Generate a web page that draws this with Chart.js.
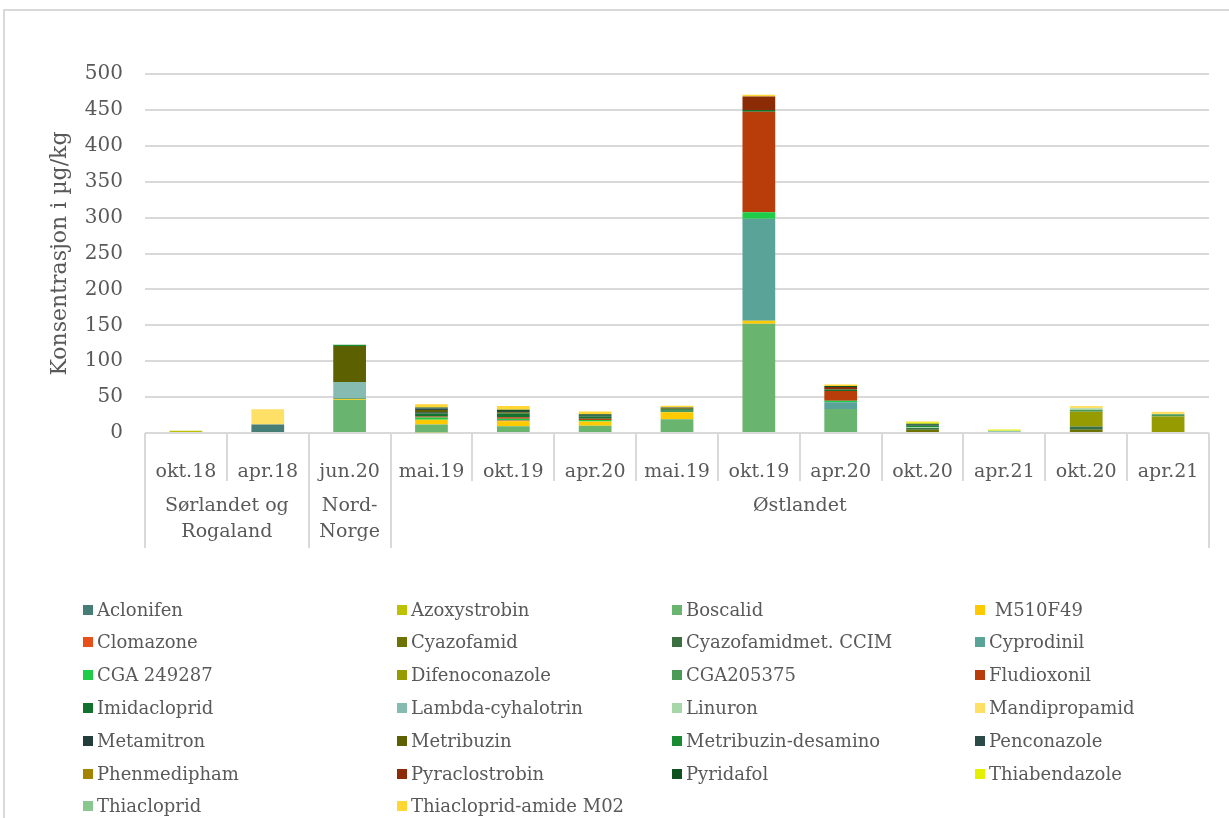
<!DOCTYPE html>
<html>
<head>
<meta charset="utf-8">
<script src="https://cdn.jsdelivr.net/npm/chart.js@4.4.1/dist/chart.umd.min.js"></script>
<style>
  html, body { margin: 0; padding: 0; background: #fff; overflow: hidden; }
  #frame { position: absolute; left: 3px; top: 9px; width: 1260px; height: 840px;
           border-top: 2px solid #d9d9d9; border-left: 2px solid #d9d9d9; box-sizing: border-box; }
  #wrap { position: absolute; left: 0; top: 0; width: 1229px; height: 818px; }
  .lg-item { position: absolute; font: 18px "DejaVu Serif"; color: #595959; white-space: pre; line-height: 22px; }
  .lg-box { position: absolute; width: 10px; height: 10px; }
</style>
</head>
<body>
<div id="frame"></div>
<div id="wrap"><canvas id="chart" width="1229" height="818"></canvas></div>
<div id="legend"></div>
<script>
// Sampling rounds (x-axis categories) and the regions they belong to
const categories = ['okt.18', 'apr.18', 'jun.20', 'mai.19', 'okt.19', 'apr.20', 'mai.19',
                    'okt.19', 'apr.20', 'okt.20', 'apr.21', 'okt.20', 'apr.21'];
const groupLabels = [['Sørlandet og', 'Rogaland'], ['Nord-', 'Norge'], ['Østlandet']];
const groupSizes = [2, 1, 10];

// Y-axis range in µg/kg
const yMin = 0;
const yMax = 500;
const yStep = 50;

// Concentrations (µg/kg) per substance, one value per sampling round
const aclonifen          = [0, 12, 0, 0, 0, 0, 0, 0, 0, 0, 0, 0, 0];
const azoxystrobin       = [3, 0, 0, 1, 0, 0, 0, 0, 0, 0, 0, 0, 0];
const boscalid           = [0, 0, 46, 11, 9.5, 10, 19, 152, 33.5, 0, 0, 0, 0];
const m510f49            = [0, 0, 1, 6.5, 7, 6, 10, 4.5, 0, 0, 0, 0, 0];
const clomazone          = [0, 0, 0, 0, 1, 0, 0, 0, 0, 0, 0, 0, 0];
const cyazofamid         = [0, 0, 0, 0, 0, 0, 0, 0, 0, 4.5, 0, 4.5, 0];
const cyazofamidCcim     = [0, 0, 0, 0, 0, 0, 0, 0, 0, 2.5, 0, 4.5, 0];
const cyprodinil         = [0, 0, 0, 0, 0, 0, 0, 142, 9.5, 0, 2, 0, 0];
const cga249287          = [0, 0, 0, 3, 2.5, 2, 0, 9, 2, 0, 0, 0, 0];
const difenoconazole     = [0, 0, 0, 0, 0, 0, 0, 0, 0, 0, 0, 20.5, 23];
const cga205375          = [0, 0, 0, 0, 0, 0, 2, 0, 0, 0, 0, 2.5, 3];
const fludioxonil        = [0, 0, 0, 1.5, 2, 2, 0, 140, 13.5, 0, 0, 0, 0];
const imidacloprid       = [0, 0, 1, 4, 5, 3, 2, 2.5, 2, 0, 0, 0, 0];
const lambdaCyhalotrin   = [0, 0, 23, 0, 0, 0, 0, 0, 0, 0, 0, 0, 0];
const linuron            = [0, 0, 0, 0, 0, 0, 0, 0, 0, 1, 1, 2.5, 0];
const mandipropamid      = [0, 21, 0, 0, 0, 0, 0, 0, 0, 0, 0, 3, 3.5];
const metamitron         = [0, 0, 0, 2, 0, 1, 0, 0, 0, 0, 0, 0, 0];
const metribuzin         = [0, 0, 50, 3, 2, 0, 1.5, 0, 0, 0, 0, 0, 0];
const metribuzinDesamino = [0, 0, 2, 0, 0, 0, 0, 0, 0, 2, 0, 0, 0];
const penconazole        = [0, 0, 0, 2, 1.5, 0, 1, 0, 0, 1.5, 0, 0, 0];
const phenmedipham       = [0, 0, 0, 0, 0, 0, 0, 0, 0, 0, 0, 0, 0];
const pyraclostrobin     = [0, 0, 0, 0, 0, 0, 0, 18.5, 3.5, 0, 0, 0, 0];
const pyridafol          = [0, 0, 0, 1.5, 2, 2, 0, 0, 1.5, 1.5, 0, 0, 0];
const thiabendazole      = [0, 0, 0, 0, 0, 0, 0, 0, 0, 2, 2, 0, 0];
const thiacloprid        = [0, 0, 0, 0, 0, 0, 0, 0, 0, 0, 0, 0, 0];
const thiaclopridAmide   = [0, 0, 0, 4.5, 5, 4, 2.5, 2.5, 2, 1, 0, 0, 0];

// Stack order (bottom to top) = legend order
const series = [
  ['Aclonifen', aclonifen, '#467d75'],
  ['Azoxystrobin', azoxystrobin, '#bcc200'],
  ['Boscalid', boscalid, '#69b56f'],
  [' M510F49', m510f49, '#ffcb00'],
  ['Clomazone', clomazone, '#e8501a'],
  ['Cyazofamid', cyazofamid, '#6e7200'],
  ['Cyazofamidmet. CCIM', cyazofamidCcim, '#3a7040'],
  ['Cyprodinil', cyprodinil, '#5aa398'],
  ['CGA 249287', cga249287, '#1ecc48'],
  ['Difenoconazole', difenoconazole, '#959b00'],
  ['CGA205375', cga205375, '#4b9a58'],
  ['Fludioxonil', fludioxonil, '#b93d0b'],
  ['Imidacloprid', imidacloprid, '#13712e'],
  ['Lambda-cyhalotrin', lambdaCyhalotrin, '#86bbb2'],
  ['Linuron', linuron, '#a7d6a9'],
  ['Mandipropamid', mandipropamid, '#ffe066'],
  ['Metamitron', metamitron, '#233d3a'],
  ['Metribuzin', metribuzin, '#5c6000'],
  ['Metribuzin-desamino', metribuzinDesamino, '#198b33'],
  ['Penconazole', penconazole, '#2b4a48'],
  ['Phenmedipham', phenmedipham, '#a38300'],
  ['Pyraclostrobin', pyraclostrobin, '#8b2c06'],
  ['Pyridafol', pyridafol, '#0e5220'],
  ['Thiabendazole', thiabendazole, '#e5f000'],
  ['Thiacloprid', thiacloprid, '#88c78e'],
  ['Thiacloprid-amide M02', thiaclopridAmide, '#ffd633']
];

const FONT = '"DejaVu Serif", serif';
const TEXT = '#595959';
const LINE = '#d9d9d9';

// Category separators below the axis and the region labels underneath
const groupAxis = {
  id: 'groupAxis',
  afterDraw(chart) {
    const { ctx, chartArea, scales: { x } } = chart;
    const n = categories.length;
    const edge = i => i === 0 ? chartArea.left : i === n ? chartArea.right
      : (x.getPixelForValue(i - 1) + x.getPixelForValue(i)) / 2;
    const bounds = new Set([0]);
    let acc = 0;
    groupSizes.forEach(s => { acc += s; bounds.add(acc); });
    ctx.save();
    ctx.strokeStyle = LINE;
    ctx.lineWidth = 2;
    for (let i = 0; i <= n; i++) {
      const px = Math.round(edge(i));
      const len = bounds.has(i) ? 115 : 48;
      ctx.beginPath();
      ctx.moveTo(px, chartArea.bottom);
      ctx.lineTo(px, chartArea.bottom + len);
      ctx.stroke();
    }
    ctx.fillStyle = TEXT;
    ctx.font = '19px ' + FONT;
    ctx.textAlign = 'center';
    ctx.textBaseline = 'middle';
    let start = 0;
    groupSizes.forEach((s, g) => {
      const cx = (edge(start) + edge(start + s)) / 2;
      groupLabels[g].forEach((t, k) => ctx.fillText(t, cx, chartArea.bottom + 73 + k * 26));
      start += s;
    });
    ctx.restore();
  }
};

new Chart(document.getElementById('chart'), {
  type: 'bar',
  data: {
    labels: categories,
    datasets: series.map(([label, data, color]) => ({
      label, data, backgroundColor: color, borderWidth: 0,
      barPercentage: 0.4, categoryPercentage: 1.0
    }))
  },
  options: {
    responsive: false,
    animation: false,
    layout: { padding: { left: 0, right: 20, top: 74, bottom: 325 } },
    plugins: { legend: { display: false }, tooltip: { enabled: false } },
    scales: {
      x: {
        stacked: true,
        grid: { display: false },
        border: { display: false },
        ticks: { color: TEXT, font: { family: FONT, size: 19 }, padding: 20, maxRotation: 0, autoSkip: false },
        afterFit(s) { s.height = 60; }
      },
      y: {
        stacked: true,
        min: yMin, max: yMax,
        ticks: { stepSize: yStep, color: TEXT, font: { family: FONT, size: 20 }, padding: 22 },
        grid: { color: LINE, lineWidth: 2, drawTicks: false },
        border: { display: false },
        title: { display: true, text: 'Konsentrasjon i µg/kg', color: TEXT,
                 font: { family: FONT, size: 22 }, padding: { top: 47, bottom: 0 } },
        afterFit(s) { s.width = 145; }
      }
    }
  },
  plugins: [groupAxis]
});

// Legend in four columns, row by row
const legendCols = [83, 397, 672, 975];
const legend = document.getElementById('legend');
series.forEach(([label, , color], i) => {
  const col = i % 4, row = Math.floor(i / 4);
  const cy = 609.5 + row * 32.8;
  const box = document.createElement('div');
  box.className = 'lg-box';
  box.style.left = legendCols[col] + 'px';
  box.style.top = (cy - 5) + 'px';
  box.style.background = color;
  legend.appendChild(box);
  const txt = document.createElement('div');
  txt.className = 'lg-item';
  txt.style.left = (legendCols[col] + 14) + 'px';
  txt.style.top = (cy - 11) + 'px';
  txt.textContent = label;
  legend.appendChild(txt);
});
</script>
</body>
</html>
